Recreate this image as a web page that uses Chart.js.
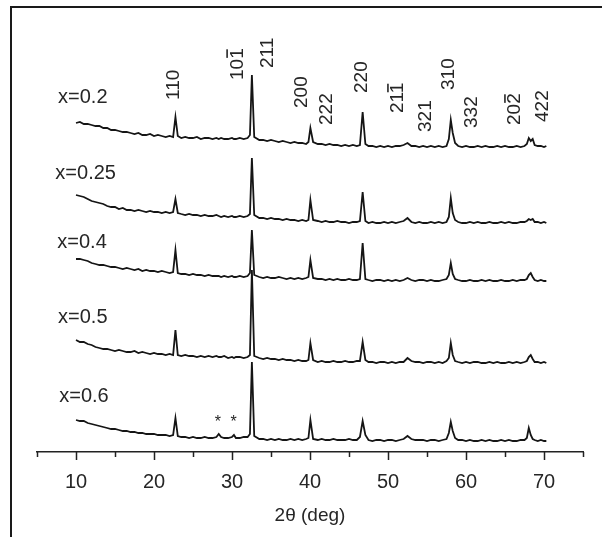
<!DOCTYPE html>
<html>
<head>
<meta charset="utf-8">
<script src="https://cdn.jsdelivr.net/npm/chart.js@4.4.0/dist/chart.umd.min.js"></script>
<style>
  html, body { margin: 0; padding: 0; background: #fff; }
</style>
</head>
<body>
<canvas id="xrd" width="602" height="537"></canvas>
<script>
// 2-theta grid (deg), denser around the reflections
const twoTheta = [
  10, 10.5, 11, 11.5, 12, 12.5, 13, 13.5, 14, 14.5, 15, 15.5, 16, 16.5, 17, 17.5, 18, 18.5, 19, 19.5, 20, 20.5, 21, 21.5, 22,
  22.45, 22.75, 23.05,
  23.5, 24, 24.5, 25, 25.5, 26, 26.5, 27, 27.5, 28,
  28.3, 28.6, 29, 29.5, 30, 30.25, 30.5, 31, 31.5, 32,
  32.3, 32.55, 32.85,
  33.5, 34, 34.5, 35, 35.5, 36, 36.5, 37, 37.5, 38, 38.5, 39, 39.5,
  39.8, 40.05, 40.4,
  41, 41.5, 42, 42.5, 43, 43.5, 44, 44.5, 45, 45.5, 46, 46.4,
  46.75, 47.1,
  47.5, 48, 48.5, 49, 49.5, 50, 50.5, 51, 51.5, 52, 52.5, 53, 53.5, 54, 54.5, 55, 55.5, 56, 56.5, 57, 57.5,
  57.8, 58.05, 58.3, 58.6,
  59, 59.5, 60, 60.5, 61, 61.5, 62, 62.5, 63, 63.5, 64, 64.5, 65, 65.5, 66, 66.5, 67, 67.5,
  67.8, 68.05, 68.3, 68.55, 68.8,
  69.2, 69.6, 70, 70.3
];

// intensities (a.u.)
const int02 = [
  24, 25, 23, 23, 22, 21, 21, 19, 19, 17, 17, 16, 15, 15, 14, 13, 14, 12, 12, 13, 11, 12, 11, 10, 11,
  10, 30, 11,
  9, 10, 9, 9, 10, 8, 9, 9, 8, 9,
  8, 9, 8, 8, 9, 8, 8, 9, 8, 9,
  12, 72, 10,
  7, 7, 6, 7, 6, 5, 6, 5, 4, 5, 4, 4, 3,
  5, 19, 5,
  3, 3, 2, 3, 2, 2, 1, 2, 1, 2, 1, 2,
  35, 3,
  1, 1, 0, 1, 0, 1, 0, 1, 1, 2, 4, 1, 1, 0, 1, 0, 1, 0, 1, 0, 1,
  8, 27, 14, 4,
  1, 0, 1, 0, 0, 1, 0, 1, 0, 0, 1, 0, 1, 0, 0, 1, 0, 1,
  3, 9, 6, 8, 2,
  1, 1, 0, 1
];
const int025 = [
  28, 27, 26, 24, 22, 21, 20, 19, 17, 16, 16, 14, 15, 13, 13, 12, 13, 12, 11, 12, 11, 11, 10, 11, 10,
  11, 24, 10,
  9, 8, 9, 8, 8, 7, 8, 7, 7, 8,
  7, 6, 7, 6, 7, 6, 6, 7, 6, 7,
  9, 65, 8,
  5, 5, 4, 5, 4, 4, 3, 4, 3, 3, 2, 3, 2,
  3, 23, 3,
  2, 1, 2, 1, 1, 2, 1, 1, 0, 1, 1, 2,
  31, 2,
  0, 1, 0, 0, 1, 0, 1, 0, 1, 2, 5, 1, 0, 1, 0, 0, 1, 0, 1, 0, 1,
  6, 25, 10, 3,
  1, 0, 0, 1, 0, 1, 0, 0, 1, 0, 0, 1, 0, 1, 0, 0, 1, 1,
  2, 4, 3, 4, 1,
  1, 0, 1, 0
];
const int04 = [
  22, 22, 21, 20, 18, 17, 16, 16, 15, 14, 14, 13, 12, 13, 12, 11, 12, 10, 11, 10, 10, 9, 10, 9, 8,
  9, 31, 8,
  7, 7, 6, 7, 6, 6, 5, 6, 5, 5,
  5, 4, 5, 4, 5, 4, 4, 5, 4, 5,
  8, 51, 6,
  4, 3, 4, 3, 3, 4, 3, 2, 3, 2, 3, 2, 3,
  4, 21, 3,
  2, 2, 1, 2, 1, 2, 1, 1, 2, 1, 1, 2,
  38, 2,
  1, 0, 1, 1, 0, 1, 0, 1, 0, 1, 3, 1, 0, 1, 1, 0, 1, 0, 0, 1, 2,
  6, 18, 7, 2,
  1, 0, 0, 1, 0, 0, 1, 0, 1, 0, 0, 1, 0, 0, 1, 0, 1, 1,
  2, 6, 8, 4, 1,
  0, 1, 0, 0
];
const int05 = [
  23, 21, 21, 19, 18, 16, 15, 14, 14, 13, 12, 13, 12, 11, 11, 12, 10, 11, 10, 9, 10, 9, 9, 8, 9,
  8, 33, 8,
  7, 8, 7, 7, 6, 7, 6, 7, 6, 7,
  6, 6, 7, 5, 6, 5, 6, 6, 5, 6,
  8, 93, 7,
  5, 4, 5, 4, 4, 3, 4, 3, 3, 2, 3, 2, 2,
  3, 20, 3,
  1, 2, 1, 1, 2, 1, 1, 2, 1, 1, 2, 2,
  21, 3,
  1, 1, 0, 1, 1, 0, 1, 0, 1, 1, 5, 2, 1, 1, 0, 1, 1, 0, 1, 0, 2,
  5, 20, 8, 2,
  1, 0, 1, 0, 1, 1, 0, 0, 1, 0, 1, 0, 0, 1, 0, 1, 0, 1,
  2, 6, 8, 4, 1,
  1, 0, 1, 0
];
const int06 = [
  21, 20, 20, 18, 17, 16, 15, 14, 13, 12, 12, 11, 10, 10, 9, 9, 8, 8, 7, 7, 7, 6, 6, 6, 5,
  6, 23, 5,
  4, 4, 3, 4, 3, 3, 4, 3, 3, 4,
  7, 4, 3, 3, 4, 6, 3, 3, 4, 4,
  7, 79, 5,
  2, 2, 1, 2, 1, 2, 1, 1, 2, 1, 2, 1, 2,
  3, 21, 2,
  1, 2, 1, 1, 2, 1, 1, 1, 2, 1, 1, 4,
  20, 6,
  1, 0, 1, 1, 0, 1, 1, 0, 1, 2, 5, 2, 1, 1, 1, 0, 1, 1, 0, 1, 2,
  8, 19, 10, 3,
  1, 1, 0, 1, 0, 0, 1, 0, 1, 0, 0, 1, 0, 1, 0, 0, 1, 1,
  3, 13, 6, 2, 1,
  0, 1, 0, 0
];

const samples = ['x=0.2', 'x=0.25', 'x=0.4', 'x=0.5', 'x=0.6'];
const patterns = [int02, int025, int04, int05, int06];
const offsets = [305, 229, 171, 89, 11];      // vertical stacking offset of each pattern
const sampleLabelAt = [7.7, 7.35, 7.6, 7.7, 7.85];
const sampleLabelY = [355, 279, 210, 135, 56];

// reflection labels (rotated); bar = overlined last index
const hkl = ['110', '101', '211', '200', '222', '220', '211', '321', '310', '332', '202', '422'];
const hklBar = [false, true, false, false, false, false, true, false, false, false, true, false];
const hklAt = [22.47, 30.68, 34.53, 39.0, 42.2, 46.67, 51.3, 54.9, 57.77, 60.77, 66.3, 69.87];
const hklY = [352, 372, 384, 344, 327, 359, 339, 320, 362, 324, 327, 330];

// impurity markers on x=0.6
const starAt = [28.2, 30.2];
const starY = [29, 29];

const FONT = "'Liberation Sans', Arial, sans-serif";
const INK = '#262626';

const decorations = {
    id: 'decorations',
    beforeDraw(chart) {
        const ctx = chart.ctx;
        ctx.save();
        ctx.fillStyle = '#ffffff';
        ctx.fillRect(0, 0, chart.width, chart.height);
        // figure frame (left and top edges only)
        ctx.strokeStyle = '#1a1a1a';
        ctx.lineWidth = 2;
        ctx.beginPath();
        ctx.moveTo(11, chart.height);
        ctx.lineTo(11, 7);
        ctx.lineTo(chart.width, 7);
        ctx.stroke();
        ctx.restore();
    },
    afterDraw(chart) {
        const { ctx, scales: { x, y } } = chart;
        ctx.save();

        // tick marks: long on decades, short in between
        ctx.strokeStyle = '#222';
        ctx.lineWidth = 1.5;
        const axisY = chart.chartArea.bottom;
        x.ticks.forEach(t => {
            const px = Math.round(x.getPixelForValue(t.value)) + 0.5;
            const len = t.value % 10 === 0 ? 8 : 5;
            ctx.beginPath();
            ctx.moveTo(px, axisY);
            ctx.lineTo(px, axisY + len);
            ctx.stroke();
        });

        ctx.fillStyle = INK;

        // sample names
        ctx.font = '20px ' + FONT;
        ctx.textAlign = 'left';
        ctx.textBaseline = 'middle';
        samples.forEach((s, i) => {
            ctx.fillText(s, x.getPixelForValue(sampleLabelAt[i]), y.getPixelForValue(sampleLabelY[i]));
        });

        // hkl labels, rotated
        ctx.font = '19px ' + FONT;
        hkl.forEach((t, i) => {
            ctx.save();
            ctx.translate(x.getPixelForValue(hklAt[i]), y.getPixelForValue(hklY[i]));
            ctx.rotate(-Math.PI / 2);
            ctx.textAlign = 'left';
            ctx.textBaseline = 'middle';
            ctx.fillText(t, 0, 0);
            if (hklBar[i]) {
                const w = ctx.measureText(t).width;
                const cw = ctx.measureText(t.slice(-1)).width;
                ctx.fillRect(w - cw + 1, -11, cw - 2, 1.6);
            }
            ctx.restore();
        });

        // asterisks
        ctx.font = '16px ' + FONT;
        ctx.textAlign = 'center';
        starAt.forEach((s, i) => {
            ctx.fillText('*', x.getPixelForValue(s), y.getPixelForValue(starY[i]));
        });

        ctx.restore();
    }
};

const datasets = patterns.map((vals, i) => ({
    label: samples[i],
    data: twoTheta.map((t, j) => ({ x: t, y: vals[j] + offsets[i] })),
    borderColor: '#151515',
    borderWidth: 1.8,
    pointRadius: 0,
    tension: 0,
    fill: false
}));

new Chart(document.getElementById('xrd'), {
    type: 'line',
    data: { datasets: datasets },
    options: {
        responsive: false,
        animation: false,
        layout: { padding: { left: 37, right: 19, top: 10, bottom: 0 } },
        plugins: {
            legend: { display: false },
            tooltip: { enabled: false }
        },
        scales: {
            x: {
                type: 'linear',
                position: 'bottom',
                min: 5,
                max: 75,
                grid: { display: false },
                border: { display: true, color: '#222', width: 1.5 },
                ticks: {
                    stepSize: 5,
                    autoSkip: false,
                    maxRotation: 0,
                    padding: 10,
                    color: INK,
                    font: { family: FONT, size: 20 },
                    callback: v => (v % 10 === 0 && v >= 10 && v <= 70) ? String(v) : ''
                },
                title: {
                    display: true,
                    text: '2θ (deg)',
                    color: INK,
                    font: { family: FONT, size: 19 },
                    padding: { top: 0, bottom: 10 }
                },
                afterFit: scale => { scale.height = 85; }
            },
            y: {
                type: 'linear',
                display: false,
                min: 0,
                max: 442
            }
        }
    },
    plugins: [decorations]
});
</script>
</body>
</html>
